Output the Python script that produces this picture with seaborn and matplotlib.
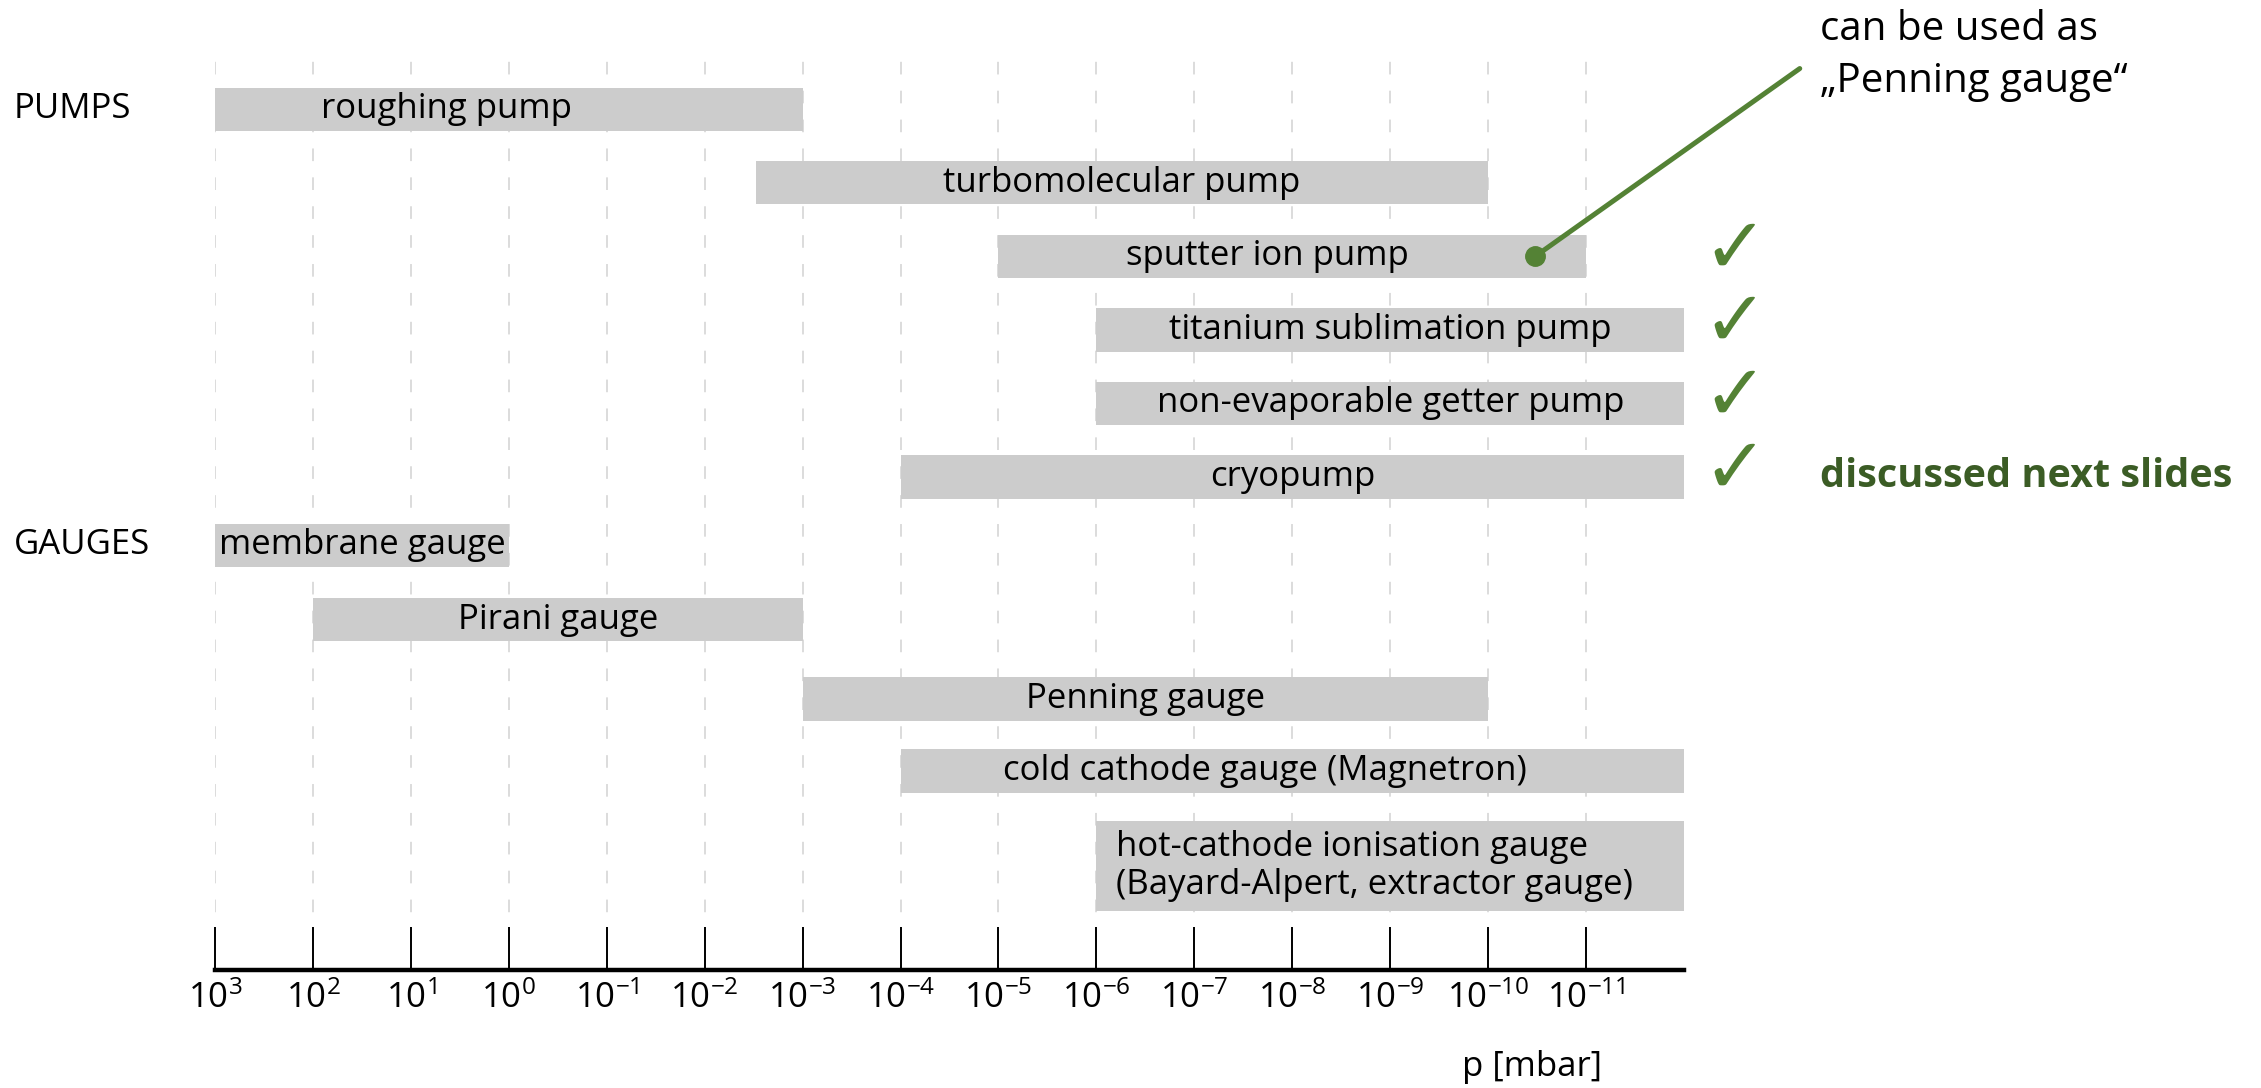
import numpy as np
import matplotlib
matplotlib.use("Agg")
import matplotlib.pyplot as plt
import matplotlib.transforms as mtransforms
from matplotlib.ticker import NullLocator
import seaborn as sns

# Operating ranges in mbar: high-pressure end and low-pressure end of each device
devices = [
    "roughing pump",
    "turbomolecular pump",
    "sputter ion pump",
    "titanium sublimation pump",
    "non-evaporable getter pump",
    "cryopump",
    "membrane gauge",
    "Pirani gauge",
    "Penning gauge",
    "cold cathode gauge (Magnetron)",
    "hot-cathode ionisation gauge\n(Bayard-Alpert, extractor gauge)",
]
p_high = [1e3, 3e-3, 1e-5, 1e-6, 1e-6, 1e-4, 1e3, 1e2, 1e-3, 1e-4, 1e-6]
p_low = [1e-3, 1e-10, 1e-11, 1e-12, 1e-12, 1e-12, 1e0, 1e-3, 1e-10, 1e-12, 1e-12]
discussed = [False, False, True, True, True, True, False, False, False, False, False]
tick_exponents = list(range(3, -12, -1))
group_labels = ["PUMPS", "GAUGES"]
group_first_row = [0, 6]
penning_mode_p = 3.3e-11  # sputter ion pump read out as a Penning gauge

# Layout: row centres, bar heights and label offsets (in decades)
row_y = [0, 1, 2, 3, 4, 5, 5.93, 6.94, 8.02, 9.0, 10.29]
row_h = [0.59] * 10 + [1.22]
label_shift = [0.64, 0, 0.25, 0, 0, 0, 0, 0, 0, 0.28, 0]

sns.set_theme(style="white")
plt.rcParams["font.family"] = ["Open Sans", "DejaVu Sans"]
plt.rcParams["text.color"] = "black"
plt.rcParams["xtick.color"] = "black"
plt.rcParams["xtick.labelcolor"] = "black"

GREEN = "#548235"
DARK_GREEN = "#3b5c25"
BAR = "#cccccc"
FS = 25

fig = plt.figure(figsize=(22.61, 10.88), dpi=100)
ax = fig.add_axes([0.0951, 0.1085, 0.6497, 0.8428])
ax.set_xscale("log")
ax.set_xlim(1e3, 1e-12)
ax.set_ylim(11.706, -0.765)

for name, hi, lo, y, h, shift in zip(devices, p_high, p_low, row_y, row_h, label_shift):
    ax.barh(y, width=lo - hi, left=hi, height=h, color=BAR, edgecolor="none", zorder=2)
    if "\n" in name:
        ax.text(10 ** (np.log10(hi) - 0.2), y, name, ha="left", va="center",
                fontsize=FS, linespacing=1.15, color="black", zorder=3)
    else:
        c = 0.5 * (np.log10(hi) + np.log10(lo)) + shift
        ax.text(10 ** c, y, name, ha="center", va="center", fontsize=FS,
                color="black", zorder=3)

# pressure axis
ax.set_xticks([10.0 ** e for e in tick_exponents])
ax.set_xticklabels([rf"$\mathregular{{10^{{{e}}}}}$" for e in tick_exponents])
ax.xaxis.set_minor_locator(NullLocator())
ax.tick_params(axis="x", which="major", direction="in", length=31, width=1.4,
               color="black", labelcolor="black", labelsize=FS, pad=8, bottom=True)
ax.tick_params(axis="y", left=False, labelleft=False)
ax.grid(axis="x", which="major", color="#d9d9d9", linestyle=(0, (7, 9)), linewidth=1.3)
ax.grid(axis="y", visible=False)
ax.set_axisbelow(True)
sns.despine(ax=ax, left=True, top=True, right=True)
ax.spines["bottom"].set_linewidth(3.2)
ax.spines["bottom"].set_color("black")

# group headings left of the axis
fig_data = mtransforms.blended_transform_factory(fig.transFigure, ax.transData)
for label, r in zip(group_labels, group_first_row):
    ax.text(0.0062, row_y[r], label, transform=fig_data, ha="left", va="center",
            fontsize=FS, color="black", clip_on=False)

# check marks for devices covered later
for flag, y in zip(discussed, row_y):
    if flag:
        ax.text(0.7675, y - 0.08, "\u2713", transform=fig_data, ha="center", va="center",
                fontsize=56, color=GREEN, family="DejaVu Sans", clip_on=False)
ax.text(0.805, row_y[5], "discussed next slides", transform=fig_data, ha="left",
        va="center", fontsize=28.5, fontweight="bold", color=DARK_GREEN, clip_on=False)

# sputter ion pump doubling as a Penning gauge
ax.annotate("", xy=(penning_mode_p, row_y[2]), xycoords="data",
            xytext=(0.796, 0.937), textcoords="figure fraction",
            arrowprops=dict(arrowstyle="-", color=GREEN, lw=3.6, shrinkA=0, shrinkB=0),
            zorder=4, annotation_clip=False)
ax.plot([penning_mode_p], [row_y[2]], marker="o", markersize=14, color=GREEN,
        zorder=5, clip_on=False)
fig.text(0.805, 0.973, "can be used as", ha="left", va="center", fontsize=29)
fig.text(0.805, 0.925, "\u201ePenning gauge\u201c", ha="left", va="center", fontsize=29)

fig.text(0.7085, 0.019, "p [mbar]", ha="right", va="center", fontsize=FS)

fig.savefig("out.png", dpi=100)
